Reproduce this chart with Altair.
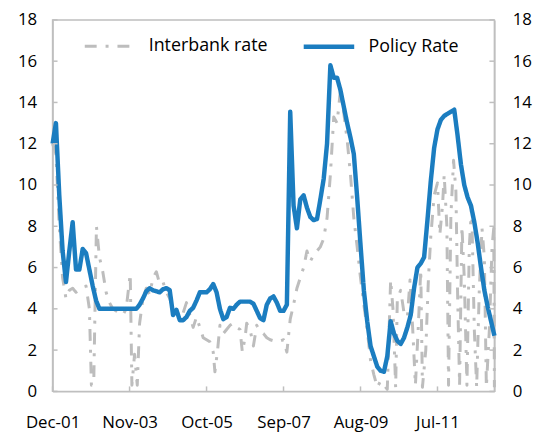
import altair as alt
import pandas as pd

# ---------------- data ----------------
tick_months = [0, 23, 46, 69, 92, 115]
tick_labels = ["Dec-01", "Nov-03", "Oct-05", "Sep-07", "Aug-09", "Jul-11"]
y_ticks = [0, 2, 4, 6, 8, 10, 12, 14, 16, 18]

# Policy rate, monthly Dec-01 .. Dec-12 (133 months)
policy_rate = [
    12.0, 13.0, 9.5, 6.8, 5.3, 6.8, 8.2, 5.9, 5.9, 6.9,
    6.7, 5.9, 5.1, 4.4, 4.0, 4.0, 4.0, 4.0, 4.0, 4.0,
    4.0, 4.0, 4.0, 4.0, 4.0, 4.0, 4.2, 4.5, 4.85, 5.0,
    4.9, 4.85, 4.8, 4.95, 5.0, 4.9, 3.7, 3.95, 3.45, 3.45,
    3.6, 3.9, 4.05, 4.4, 4.8, 4.8, 4.8, 4.95, 5.2, 4.8,
    4.0, 3.5, 3.6, 4.05, 4.0, 4.2, 4.35, 4.35, 4.35, 4.35,
    4.25, 3.9, 3.55, 3.45, 4.2, 4.5, 4.6, 4.3, 3.9, 3.9,
    4.2, 13.55, 9.0, 7.9, 9.3, 9.5, 8.9, 8.45, 8.3, 8.35,
    9.3, 10.3, 12.0, 15.8, 15.2, 15.2, 14.6, 13.8, 13.0, 12.3,
    11.5, 9.4, 7.1, 4.9, 3.4, 2.2, 1.7, 1.2, 1.0, 0.95,
    1.7, 3.4, 2.8, 2.45, 2.3, 2.6, 3.1, 3.7, 5.0, 6.0,
    6.2, 6.5, 8.3, 10.2, 11.8, 12.7, 13.15, 13.35, 13.45, 13.55,
    13.65, 12.4, 11.0, 10.0, 9.4, 9.0, 8.2, 7.2, 6.0, 4.9,
    4.1, 3.4, 2.7,
]

# Interbank rate (higher frequency observations, month offset from Dec-01)
ib_month = [
    0, 1, 2, 3, 4, 5, 6, 7, 8, 9, 10, 11, 11.6, 12.3, 13.1, 14, 15, 16, 17, 18,
    19, 20, 21, 22, 23.2, 23.7, 24.5, 25.3, 26, 27, 28, 29, 30, 31, 32, 33, 34, 35, 36, 37,
    38, 39, 40, 41, 42, 43, 44, 45, 46, 47, 48, 48.5, 49.3, 50, 51, 52, 53, 54, 55, 56,
    56.7, 57.5, 58, 59, 60, 61, 62, 63, 64, 65, 66, 67, 68, 69, 70, 71, 72, 73, 74, 75,
    76, 77, 78, 79, 80, 81, 82, 83, 84, 85, 86, 87, 88, 89, 90, 91, 92, 93, 94, 95,
    96, 97, 98, 99, 100, 101, 101.7, 102.5, 103, 104, 105, 106, 106.8, 107.6, 108.4, 109.2, 110, 110.5, 111.5, 112.3,
    113, 114, 115, 115.7, 116.5, 117, 117.8, 118.3, 119, 119.8, 120.5, 121, 121.6, 122.3, 123, 123.8, 124.5, 125.2, 126, 126.7,
    127.5, 128.3, 129, 129.6, 130.5, 131.3, 131.8, 132,
]
ib_rate = [
    12.0, 11.5, 8.0, 5.5, 4.5, 4.9, 5.0, 4.8, 4.9, 5.0, 5.1, 4.0, 0.3, 0.4, 8.0, 6.5, 5.8, 4.8, 4.3, 4.0,
    3.9, 3.8, 3.7, 4.0, 5.7, 0.3, 1.8, 0.3, 3.3, 4.5, 5.0, 4.7, 5.5, 5.8, 5.2, 5.3, 4.8, 4.5, 4.0, 3.8,
    3.6, 3.8, 4.3, 3.7, 3.1, 3.6, 3.1, 2.6, 2.5, 2.4, 1.9, 0.95, 2.0, 3.2, 2.8, 3.0, 3.2, 3.3, 3.1, 3.0,
    1.9, 2.6, 3.3, 3.0, 2.2, 3.2, 2.9, 2.8, 2.6, 2.5, 2.45, 2.4, 2.45, 2.5, 1.9, 3.5, 4.2, 5.0, 5.5, 6.0,
    6.8, 6.3, 6.6, 6.8, 7.0, 7.4, 8.4, 10.5, 13.3, 13.0, 14.6, 13.5, 12.2, 10.5, 8.4, 7.0, 5.5, 4.2, 3.0, 1.5,
    0.8, 0.2, 0.5, 0.3, 0.1, 5.4, 4.0, 0.2, 4.5, 4.9, 3.8, 3.6, 5.4, 3.0, 0.3, 2.9, 5.9, 0.2, 2.0, 5.5,
    7.5, 9.5, 10.1, 7.6, 9.0, 10.5, 8.0, 0.3, 8.5, 11.2, 9.7, 4.8, 0.3, 8.0, 5.5, 0.3, 7.0, 9.0, 3.0, 0.2,
    5.0, 7.9, 6.5, 0.2, 3.0, 7.0, 7.9, 0.2,
]

series_names = ["Interbank rate", "Policy Rate"]
colors = ["#BDBDBD", "#1B7DC0"]
dashes = [[12, 9, 3, 9], [1, 0]]
widths = [3, 4.5]

df = pd.concat([
    pd.DataFrame({"month": ib_month, "rate": ib_rate, "series": series_names[0]}),
    pd.DataFrame({"month": list(range(len(policy_rate))), "rate": policy_rate, "series": series_names[1]}),
])

W, H = 446, 375
FONT = "Open Sans"
AX = "#BFBFBF"
FS = 17

xscale = alt.Scale(domain=[0, 132], nice=False, zero=False)
yscale = alt.Scale(domain=[0, 18], nice=False)

label_expr = "[" + ",".join(f"'{l}'" for l in tick_labels) + "][indexof([" + \
    ",".join(str(m) for m in tick_months) + "], round(datum.value))]"

x_axis = alt.Axis(values=tick_months, labelExpr=label_expr, title=None,
                  grid=False, ticks=False, labelPadding=23, labelFontSize=FS,
                  labelFont=FONT, labelColor="#000", domainColor=AX,
                  domainWidth=1.5, labelFlush=False)

lines = alt.Chart(df).mark_line(strokeJoin="round").encode(
    x=alt.X("month:Q", scale=xscale, axis=x_axis),
    y=alt.Y("rate:Q", scale=yscale,
            axis=alt.Axis(values=y_ticks, orient="left", title=None, grid=False,
                          ticks=False, labelPadding=16, labelFontSize=FS, labelFont=FONT,
                          labelColor="#000", domainColor=AX, domainWidth=1.5)),
    color=alt.Color("series:N", scale=alt.Scale(domain=series_names, range=colors),
                    legend=alt.Legend(title=None, orient="none", legendX=31, legendY=-1,
                                      direction="horizontal", symbolType="stroke",
                                      symbolSize=2600, labelFontSize=18, labelFont=FONT,
                                      labelColor="#000", labelOffset=12, columnPadding=26,
                                      padding=0)),
    strokeDash=alt.StrokeDash("series:N", scale=alt.Scale(domain=series_names, range=dashes)),
    strokeWidth=alt.StrokeWidth("series:N", scale=alt.Scale(domain=series_names, range=widths)),
    order=alt.Order("month:Q"),
)

ydf = pd.DataFrame({"v": y_ticks})
xdf = pd.DataFrame({"m": tick_months})

left_ticks = alt.Chart(ydf).mark_rule(color=AX, strokeWidth=1.5).encode(
    y=alt.Y("v:Q", scale=yscale,
            axis=alt.Axis(values=y_ticks, orient="right", title=None, grid=False,
                          ticks=False, labelPadding=18, labelFontSize=FS, labelFont=FONT,
                          labelColor="#000", domainColor=AX, domainWidth=1.5)),
    x=alt.value(0), x2=alt.value(5),
)
right_ticks = alt.Chart(ydf).mark_rule(color=AX, strokeWidth=1.5).encode(
    y=alt.Y("v:Q", scale=yscale, axis=None),
    x=alt.value(W - 5), x2=alt.value(W),
)
bottom_ticks = alt.Chart(xdf).mark_rule(color=AX, strokeWidth=1.5).encode(
    x=alt.X("m:Q", scale=xscale, axis=x_axis),
    y=alt.value(H - 5), y2=alt.value(H),
)

chart = alt.layer(lines, left_ticks, right_ticks, bottom_ticks).resolve_axis(
    y="independent"
).properties(
    width=W, height=H,
    autosize=alt.AutoSizeParams(type="none"),
    padding={"left": 45, "top": 10, "right": 42, "bottom": 40},
).configure_view(stroke=AX, strokeWidth=1.5)

chart.save("out.html", embed_options={"renderer": "svg", "actions": False})
